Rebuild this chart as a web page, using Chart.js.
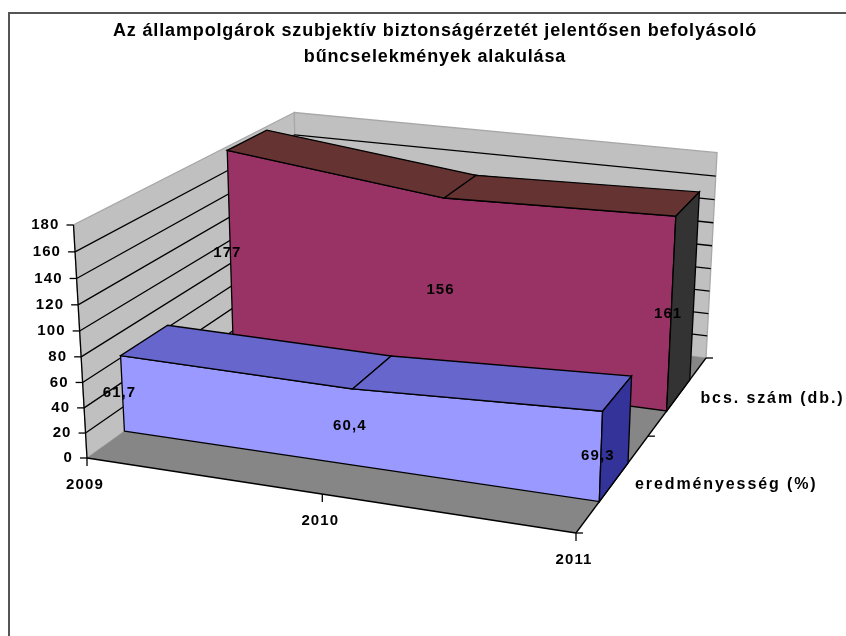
<!DOCTYPE html>
<html>
<head>
<meta charset="utf-8">
<script src="https://cdn.jsdelivr.net/npm/chart.js@4"></script>
<style>
    html, body { margin: 0; background: white; overflow: hidden; }
    #frame { position: absolute; left: 8px; top: 12px; width: 838px; height: 624px;
             border-left: 2px solid #555; border-top: 2px solid #555; box-sizing: border-box; }
    canvas { position: absolute; left: 0; top: 0; }
</style>
</head>
<body>
<div id="frame"></div>
<canvas id="chart" width="846" height="636"></canvas>
<script>
const years = ['2009', '2010', '2011'];
const seriesNames = ['eredményesség (%)', 'bcs. szám (db.)'];
const eredmenyesseg = [61.7, 60.4, 69.3];
const bcsSzam = [177, 156, 161];
const valueTicks = [0, 20, 40, 60, 80, 100, 120, 140, 160, 180];

const TITLE = ['Az állampolgárok szubjektív biztonságérzetét jelentősen befolyásoló', 'bűncselekmények alakulása'];
const TITLE_BLOCK = 70; // height the title takes from the top of the chart
const LEFT_PAD = 24; // pushes the centred title to the right, as in the original

const LABEL_FONT = 'bold 15px "Liberation Sans", Arial, sans-serif';
const SERIES_FONT = 'bold 16px "Liberation Sans", Arial, sans-serif';
const VALUE_MAX = 180;

// screen corners of the floor and vanishing point of the verticals (Excel style 3D box)
const floorA = [87, 458], floorB = [576, 533], floorC = [706, 358], floorD = [298, 307];
const vanish = [405, 5950];
const topOfA = 225;

const den = (floorB[0] - floorC[0]) * (floorD[1] - floorC[1]) - (floorD[0] - floorC[0]) * (floorB[1] - floorC[1]);
const sx = floorA[0] - floorB[0] + floorC[0] - floorD[0];
const sy = floorA[1] - floorB[1] + floorC[1] - floorD[1];
const g = (sx * (floorD[1] - floorC[1]) - (floorD[0] - floorC[0]) * sy) / den;
const h = ((floorB[0] - floorC[0]) * sy - sx * (floorB[1] - floorC[1])) / den;
const k = (topOfA - floorA[1]) / (vanish[1] - topOfA);

// u: along the years, v: depth, value: height on the value axis
function project(u, v, value) {
    const t = value / VALUE_MAX;
    const X = (floorB[0] * (1 + g) - floorA[0]) * u + (floorD[0] * (1 + h) - floorA[0]) * v + floorA[0] + k * vanish[0] * t;
    const Y = (floorB[1] * (1 + g) - floorA[1]) * u + (floorD[1] * (1 + h) - floorA[1]) * v + floorA[1] + k * vanish[1] * t;
    const W = g * u + h * v + 1 + k * t;
    return { x: X / W, y: Y / W };
}

const uOf = (i) => i / (years.length - 1);
const datasets = [];

function shape(points, fill, stroke, closed = true) {
    datasets.push({ data: points, fillColor: fill, strokeColor: stroke, closed });
}

function segment(a, b, stroke) {
    shape([a, b], null, stroke, false);
}

// walls and floor
shape([project(0, 0, 0), project(0, 1, 0), project(0, 1, VALUE_MAX), project(0, 0, VALUE_MAX)], '#c0c0c0', '#a8a8a8');
shape([project(0, 1, 0), project(1, 1, 0), project(1, 1, VALUE_MAX), project(0, 1, VALUE_MAX)], '#c0c0c0', '#a8a8a8');
shape([project(0, 0, 0), project(1, 0, 0), project(1, 1, 0), project(0, 1, 0)], '#868686', null);

valueTicks.filter((v) => v > 0 && v < VALUE_MAX).forEach((v) => {
    shape([project(0, 0, v), project(0, 1, v), project(1, 1, v)], null, '#000000', false);
});

segment(project(0, 0, 0), project(0, 0, VALUE_MAX), '#000000');
segment(project(0, 0, 0), project(1, 0, 0), '#000000');
segment(project(1, 0, 0), project(1, 1, 0), '#000000');

// tick marks
valueTicks.forEach((v) => {
    const p = project(0, 0, v);
    segment({ x: p.x - 7, y: p.y }, p, '#000000');
});
years.forEach((y, i) => {
    const p = project(uOf(i), 0, 0);
    segment(p, { x: p.x, y: p.y + 8 }, '#000000');
});
[0, 0.5, 1].forEach((v) => {
    const p = project(1, v, 0);
    segment(p, { x: p.x + 7, y: p.y }, '#000000');
});

function ribbon(values, v0, v1, front, top, side) {
    const bottom = values.map((_, i) => project(uOf(i), v0, 0));
    const upper = values.map((val, i) => project(uOf(i), v0, val));
    shape([...bottom, ...[...upper].reverse()], front, '#000000');
    for (let i = 0; i < values.length - 1; i++) {
        shape([project(uOf(i), v0, values[i]), project(uOf(i + 1), v0, values[i + 1]),
            project(uOf(i + 1), v1, values[i + 1]), project(uOf(i), v1, values[i])], top, '#000000');
    }
    const last = values.length - 1;
    shape([project(1, v0, 0), project(1, v1, 0), project(1, v1, values[last]), project(1, v0, values[last])], side, '#000000');
}

ribbon(bcsSzam, 0.65, 0.85, '#993366', '#663333', '#333333');
ribbon(eredmenyesseg, 0.15, 0.35, '#9999ff', '#6666cc', '#333399');

const texts = [];
valueTicks.forEach((v) => {
    const p = project(0, 0, v);
    texts.push({ text: String(v), x: p.x - 14, y: p.y, align: 'right' });
});
years.forEach((y, i) => {
    const p = project(uOf(i), 0, 0);
    texts.push({ text: y, x: p.x - 2, y: p.y + 27 });
});
texts.push({ text: seriesNames[0], ...project(1, 0.25, 0), dx: 21, dy: 3, align: 'left', font: SERIES_FONT, spacing: '1.9px' });
texts.push({ text: seriesNames[1], ...project(1, 0.75, 0), dx: 22, dy: 3, align: 'left', font: SERIES_FONT, spacing: '1.9px' });

[[eredmenyesseg, 0.15], [bcsSzam, 0.65]].forEach(([values, v0]) => {
    values.forEach((val, i) => {
        const p = project(uOf(i), v0, val / 2);
        texts.push({ text: String(val).replace('.', ','), x: p.x - 3, y: p.y - 1 });
    });
});

// draws the shapes and labels from the points the scales placed
const box3d = {
    id: 'box3d',
    beforeDraw(chart) {
        chart.ctx.letterSpacing = '0.85px';
    },
    afterDatasetsDraw(chart) {
        const ctx = chart.ctx;
        ctx.save();
        ctx.lineWidth = 1.3;
        chart.data.datasets.forEach((ds, idx) => {
            const pts = chart.getDatasetMeta(idx).data;
            ctx.beginPath();
            pts.forEach((p, i) => (i ? ctx.lineTo(p.x, p.y) : ctx.moveTo(p.x, p.y)));
            if (ds.closed) ctx.closePath();
            if (ds.fillColor) {
                ctx.fillStyle = ds.fillColor;
                ctx.fill();
            }
            if (ds.strokeColor) {
                ctx.strokeStyle = ds.strokeColor;
                ctx.stroke();
            }
        });
        ctx.fillStyle = '#000000';
        ctx.textBaseline = 'middle';
        const { x: xs, y: ys } = chart.scales;
        texts.forEach((t) => {
            ctx.font = t.font || LABEL_FONT;
            ctx.letterSpacing = t.spacing || '1.1px';
            ctx.textAlign = t.align || 'center';
            ctx.fillText(t.text, xs.getPixelForValue(t.x) + (t.dx || 0), ys.getPixelForValue(t.y) + (t.dy || 0));
        });
        ctx.restore();
    },
};

new Chart(document.getElementById('chart').getContext('2d'), {
    type: 'scatter',
    plugins: [box3d],
    data: { datasets },
    options: {
        responsive: false,
        animation: false,
        layout: { padding: { left: LEFT_PAD } },
        elements: { point: { radius: 0 } },
        plugins: {
            legend: { display: false },
            tooltip: { enabled: false },
            title: {
                display: true,
                text: TITLE,
                color: '#000000',
                font: { family: '"Liberation Sans", Arial, sans-serif', size: 18, weight: 'bold', lineHeight: 1.4444 },
                padding: { top: 18, bottom: 0 },
            },
        },
        scales: {
            x: { type: 'linear', display: false, min: LEFT_PAD, max: 846 },
            y: { type: 'linear', display: false, min: TITLE_BLOCK, max: 636, reverse: true },
        },
    },
});
</script>
</body>
</html>
